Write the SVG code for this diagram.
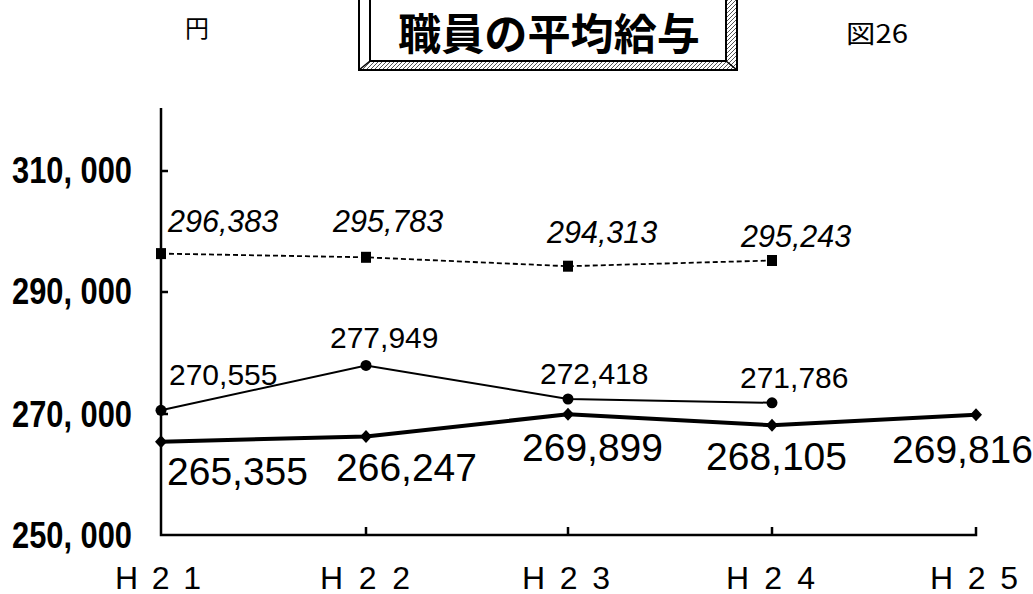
<svg xmlns="http://www.w3.org/2000/svg" width="1033" height="594" viewBox="0 0 1033 594">
<style>
.ax{stroke:#000;stroke-width:2.5;fill:none}
.yl{font-family:"Liberation Sans",Arial,sans-serif;font-weight:bold;font-size:36px;fill:#000}
.xl{font-family:"Liberation Sans",Arial,sans-serif;font-size:32px;fill:#000}
.it{font-family:"Liberation Sans",Arial,sans-serif;font-style:italic;font-size:30.5px;fill:#000}
.cl{font-family:"Liberation Sans",Arial,sans-serif;font-size:30px;fill:#000}
.dl{font-family:"Liberation Sans",Arial,sans-serif;font-size:39px;fill:#000}
.cjk{font-family:"Noto Sans CJK JP","Liberation Sans",sans-serif;fill:#000}
.dash{stroke:#000;stroke-width:1.8;fill:none;stroke-dasharray:5 3}
.thin{stroke:#000;stroke-width:2;fill:none}
.thick{stroke:#000;stroke-width:4;fill:none;stroke-linejoin:round}
</style>
<defs>
<pattern id="hatch" width="4" height="4" patternUnits="userSpaceOnUse">
<rect width="4" height="4" fill="#fff"/>
<path d="M0,4 L4,0" stroke="#555" stroke-width="1"/>
</pattern>
<rect id="sq" x="-5" y="-5.5" width="10" height="11" fill="#000"/>
<circle id="ci" r="5.5" fill="#000"/>
<path id="di" d="M0,-6.5 L6,0 L0,6.5 L-6,0 Z" fill="#000"/>
</defs>
<rect width="1033" height="594" fill="#fff"/>

<g id="title">
<polygon points="726,-2 737,-2 737,70 726,61" fill="url(#hatch)"/>
<polygon points="370,61 726,61 737,70 359,70" fill="url(#hatch)"/>
<rect x="359" y="-2" width="378" height="72" fill="none" stroke="#000" stroke-width="2"/>
<rect x="370" y="-2" width="356" height="63" fill="none" stroke="#000" stroke-width="2"/>
<line x1="370" y1="61" x2="359" y2="70" stroke="#000" stroke-width="1.5"/>
<line x1="726" y1="61" x2="737" y2="70" stroke="#000" stroke-width="1.5"/>
<text class="cjk" x="549" y="50" font-size="43" font-weight="bold" text-anchor="middle" textLength="302" lengthAdjust="spacingAndGlyphs">職員の平均給与</text>
</g>
<g id="unit"><text class="cjk" x="185" y="37" font-size="24">円</text></g>
<g id="fig"><text class="cjk" x="846" y="43" font-size="25" textLength="62" lengthAdjust="spacingAndGlyphs">図26</text></g>

<g id="axes">
<path class="ax" d="M161,108 V535 H976 V527"/>
<path class="ax" d="M161,171 h7 M161,292 h7 M161,414 h7 M366,535 v-8 M568,535 v-8 M772,535 v-8"/>
</g>
<g id="ylabels">
<text class="yl" x="12" y="183" textLength="120" lengthAdjust="spacingAndGlyphs">310, 000</text>
<text class="yl" x="12" y="304" textLength="120" lengthAdjust="spacingAndGlyphs">290, 000</text>
<text class="yl" x="12" y="427" textLength="120" lengthAdjust="spacingAndGlyphs">270, 000</text>
<text class="yl" x="12" y="548" textLength="120" lengthAdjust="spacingAndGlyphs">250, 000</text>
</g>
<g id="xlabels">
<text class="xl" x="115" y="589" textLength="86" lengthAdjust="spacing">H 2 1</text>
<text class="xl" x="320" y="589" textLength="90" lengthAdjust="spacing">H 2 2</text>
<text class="xl" x="522" y="589" textLength="88" lengthAdjust="spacing">H 2 3</text>
<text class="xl" x="726" y="589" textLength="89" lengthAdjust="spacing">H 2 4</text>
<text class="xl" x="930" y="589" textLength="88" lengthAdjust="spacing">H 2 5</text>
</g>

<g id="connectors">
<polyline class="dash" points="161,253.6 366,257.3 568,266.2 772,260.5"/>
<polyline class="thin" points="161,410.3 366,365.4 568,399 772,402.8"/>
<polyline class="thick" points="161,441.8 366,436.4 568,414.3 772,425.2 976,414.8"/>
</g>

<g id="series-dashed">
<use href="#sq" x="161" y="253.6"/><use href="#sq" x="366" y="257.3"/><use href="#sq" x="568" y="266.2"/><use href="#sq" x="772" y="260.5"/>
<text class="it" x="168" y="232">296,383</text>
<text class="it" x="333" y="232">295,783</text>
<text class="it" x="547" y="243">294,313</text>
<text class="it" x="741" y="247">295,243</text>
</g>
<g id="series-circle">
<use href="#ci" x="161" y="410.3"/><use href="#ci" x="366" y="365.4"/><use href="#ci" x="568" y="399"/><use href="#ci" x="772" y="402.8"/>
<text class="cl" x="169" y="385">270,555</text>
<text class="cl" x="330" y="348">277,949</text>
<text class="cl" x="540" y="384">272,418</text>
<text class="cl" x="740" y="388">271,786</text>
</g>
<g id="series-diamond">
<use href="#di" x="161" y="441.8"/><use href="#di" x="366" y="436.4"/><use href="#di" x="568" y="414.3"/><use href="#di" x="772" y="425.2"/><use href="#di" x="976" y="414.8"/>
<text class="dl" x="167" y="485">265,355</text>
<text class="dl" x="336" y="481">266,247</text>
<text class="dl" x="522" y="461">269,899</text>
<text class="dl" x="706" y="470">268,105</text>
<text class="dl" x="892" y="463">269,816</text>
</g>
</svg>
